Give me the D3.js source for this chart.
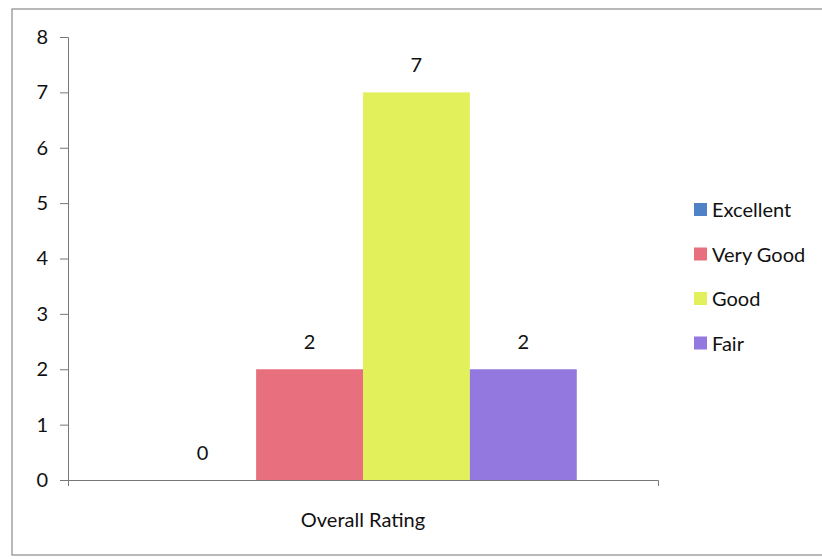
<!DOCTYPE html>
<html>
<head>
<meta charset="utf-8">
<script src="https://cdn.jsdelivr.net/npm/d3@7"></script>
<style>
  body { margin: 0; background: #fff; }
  text { font-family: Lato, "Open Sans", sans-serif; fill: #111; }
</style>
</head>
<body>
<div id="chart"></div>
<script>
// data
var category = "Overall Rating";
var series = ["Excellent", "Very Good", "Good", "Fair"];
var values = [0, 2, 7, 2];
var colors = ["#4f81c7", "#e8707e", "#e2f05c", "#9378e0"];
var yTicks = [0, 1, 2, 3, 4, 5, 6, 7, 8];

var W = 822, H = 559;
var margin = { top: 37, left: 68 },
    plotW = 590,
    plotH = 443;

var svg = d3.select("#chart").append("svg")
    .attr("width", W)
    .attr("height", H);

// outer frame
svg.append("rect")
    .attr("x", 12).attr("y", 9)
    .attr("width", 812).attr("height", 546)
    .attr("fill", "none")
    .attr("stroke", "#8a8a8a")
    .attr("stroke-width", 1.2);

var g = svg.append("g")
    .attr("transform", "translate(" + margin.left + "," + margin.top + ")");

////// scales
var y = d3.scaleLinear().domain([0, 8]).range([plotH, 0]);
var x0 = d3.scaleBand().domain([category]).range([0, plotW]).paddingInner(0).paddingOuter(0.19);
var x1 = d3.scaleBand().domain(series).range([0, x0.bandwidth()]).padding(0);

////// y axis
var yAxis = g.append("g")
    .call(d3.axisLeft(y).tickValues(yTicks).tickSize(8).tickPadding(12));
yAxis.select(".domain").attr("stroke", "#777");
yAxis.selectAll(".tick line").attr("stroke", "#777");
yAxis.selectAll("text")
    .attr("font-size", "20px")
    .attr("fill", "#111");

////// bars
var grp = g.append("g").attr("transform", "translate(" + x0(category) + ",0)");
grp.selectAll("rect")
    .data(series)
    .enter()
    .append("rect")
    .attr("x", function(d) { return x1(d); })
    .attr("y", function(d, i) { return y(values[i]); })
    .attr("width", x1.bandwidth())
    .attr("height", function(d, i) { return plotH - y(values[i]); })
    .attr("fill", function(d, i) { return colors[i]; });

// value labels
grp.selectAll("text.val")
    .data(series)
    .enter()
    .append("text")
    .attr("class", "val")
    .attr("x", function(d) { return x1(d) + x1.bandwidth() / 2; })
    .attr("y", function(d, i) { return y(values[i]) - 20; })
    .attr("text-anchor", "middle")
    .attr("font-size", "20px")
    .text(function(d, i) { return values[i]; });

////// x axis
var xAxis = g.append("g")
    .attr("transform", "translate(0," + plotH + ")")
    .call(d3.axisBottom(x0).tickSize(0).tickSizeOuter(6).tickFormat(""));
xAxis.select(".domain").attr("stroke", "#777");

g.append("text")
    .attr("x", x0(category) + x0.bandwidth() / 2)
    .attr("y", plotH + 47)
    .attr("text-anchor", "middle")
    .attr("font-size", "20px")
    .text(category);

////// legend
var legend = svg.append("g").attr("transform", "translate(694,203)");
var item = legend.selectAll("g")
    .data(series)
    .enter()
    .append("g")
    .attr("transform", function(d, i) { return "translate(0," + (i * 44.5) + ")"; });
item.append("rect")
    .attr("width", 13).attr("height", 13)
    .attr("fill", function(d, i) { return colors[i]; });
item.append("text")
    .attr("x", 18)
    .attr("y", 14)
    .attr("font-size", "20px")
    .text(function(d) { return d; });
</script>
</body>
</html>
